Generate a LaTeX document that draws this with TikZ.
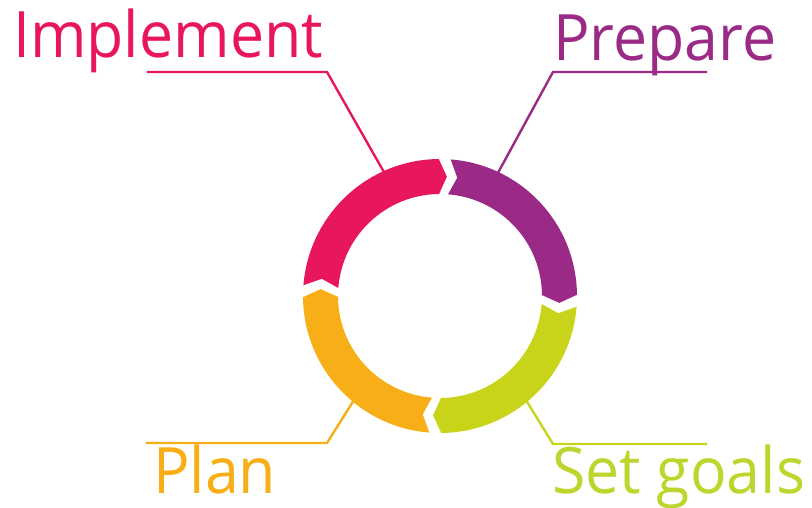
\documentclass[tikz,border=0pt]{standalone}
\usepackage{fontspec}
\setmainfont[FakeStretch=0.95]{Open Sans}
\definecolor{cpink}{HTML}{E8175D}
\definecolor{cpurple}{HTML}{9B2A86}
\definecolor{cgreen}{HTML}{C8D41A}
\definecolor{cgreentext}{HTML}{BDD52C}
\definecolor{corange}{HTML}{F8AE17}
\tikzset{
  leader/.style={line width=2.4pt, line join=miter},
  label/.style={inner sep=0pt, anchor=base west, font=\fontsize{64}{64}\selectfont},
}
\newcommand{\ringseg}[3]{% start angle, end angle, colour
  \fill[#3] (#1:137) arc[start angle=#1, end angle=#2, radius=137]
    -- ({#2-3.8}:119.5) -- (#2:102)
    arc[start angle=#2, end angle=#1, radius=102]
    -- ({#1-3.8}:119.5) -- cycle;}
\begin{document}
\begin{tikzpicture}[x=1pt,y=1pt]
\useasboundingbox (-440,-212) rectangle (372,296);
% leader coordinates
\coordinate (pkA) at (-293,224);
\coordinate (pkB) at (-113,224);
\coordinate (pkC) at (114:128);
\coordinate (puA) at (267,224);
\coordinate (puB) at (113,224);
\coordinate (puC) at (65:128);
\coordinate (orA) at (-294,-147);
\coordinate (orB) at (-113,-147);
\coordinate (orC) at (-130:128);
\coordinate (grA) at (267,-148);
\coordinate (grB) at (113,-148);
\coordinate (grC) at (-50:128);
\draw[leader, cpink] (pkA) -- (pkB) -- (pkC);
\draw[leader, cpurple] (puA) -- (puB) -- (puC);
\draw[leader, corange] (orA) -- (orB) -- (orC);
\draw[leader, cgreen] (grA) -- (grB) -- (grC);
% ring segments (clockwise)
\ringseg{175.5}{90.5}{cpink}
\ringseg{85.5}{0.5}{cpurple}
\ringseg{-4.5}{-89.5}{cgreen}
\ringseg{-94.5}{-179.5}{corange}
% labels
\node[label, text=cpink] (impl) at (-427,238) {Implement};
\node[label, text=cpurple] (prep) at (113,235) {Prepare};
\node[label, text=corange] (plan) at (-287,-198) {Plan};
\node[label, text=cgreentext] (goals) at (112,-198) {Set goals};
\end{tikzpicture}
\end{document}
